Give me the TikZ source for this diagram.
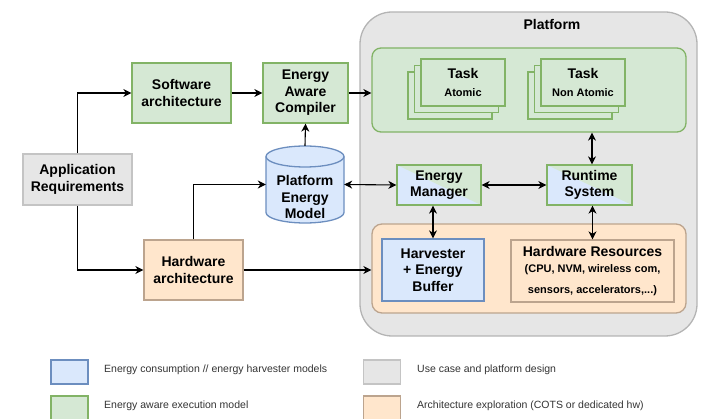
\documentclass[tikz,border=0pt]{standalone}
\usepackage{fontspec}
\setmainfont{Liberation Sans}
\usetikzlibrary{arrows.meta}

\definecolor{bluefill}{HTML}{DAE8FC}
\definecolor{blueline}{HTML}{6C8EBF}
\definecolor{greenfill}{HTML}{D5E8D4}
\definecolor{greenline}{HTML}{82B366}
\definecolor{grayfill}{HTML}{E6E6E6}
\definecolor{grayline}{HTML}{C4C4C4}
\definecolor{orangefill}{HTML}{FFE6CC}
\definecolor{orangeline}{HTML}{BCA48E}

\newcommand\bigbf{\fontsize{14}{16.5}\selectfont\bfseries}
\newcommand\smallbf{\fontsize{11}{13}\selectfont\bfseries}

\begin{document}
\begin{tikzpicture}[x=1pt,y=-1pt,
  box/.style={line width=1.3pt,align=center,inner sep=0pt,font=\bigbf},
  bluebox/.style={box,draw=blueline,fill=bluefill},
  greenbox/.style={box,draw=greenline,fill=greenfill},
  graybox/.style={box,draw=grayline,fill=grayfill},
  orangebox/.style={box,draw=orangeline,fill=orangefill},
  mixbox/.style={box,draw=greenline,fill=bluefill,
    path picture={\fill[greenfill] (path picture bounding box.north west) -- (path picture bounding box.north east) -- (path picture bounding box.south east) -- cycle;}},
  conn/.style={line width=1.1pt,-{Stealth[length=8pt,width=8pt,inset=2.5pt]}},
  biconn/.style={line width=1.1pt,{Stealth[length=8pt,width=8pt,inset=2.5pt]}-{Stealth[length=8pt,width=8pt,inset=2.5pt]}},
  legtext/.style={anchor=west,inner sep=0pt,font=\fontsize{10.5}{13}\selectfont,text=black!80}
]
\useasboundingbox (0,0) rectangle (705,419);

% platform
\node (platform) [graybox,draw=grayline!92!black,minimum width=337,minimum height=324,rounded corners=32] at (528.5,174) {};
\node (platformtitle) [font=\bigbf] at (552,25) {Platform};

\node (tasks) [greenbox,minimum width=314,minimum height=84,rounded corners=9] at (529,90) {};
\foreach \d in {13,6.5}
  \node [greenbox,minimum width=84,minimum height=47] at (463-\d,82.5+\d) {};
\node (taskatomic) [greenbox,minimum width=84,minimum height=47] at (463,82.5) {Task\\[1pt]\smallbf Atomic};
\foreach \d in {13,6.5}
  \node [greenbox,minimum width=84,minimum height=47] at (583-\d,82.5+\d) {};
\node (tasknonatomic) [greenbox,minimum width=84,minimum height=47] at (583,82.5) {Task\\[1pt]\smallbf Non Atomic};

\node (em) [mixbox,minimum width=84,minimum height=40] at (439,185) {Energy\\Manager};
\node (runtime) [mixbox,minimum width=85,minimum height=40] at (589.5,185) {Runtime\\System};

\node (hwbox) [orangebox,minimum width=314,minimum height=89,rounded corners=10] at (529,268.5) {};
\node (harvester) [bluebox,minimum width=102,minimum height=62] at (433,270) {Harvester\\+ Energy\\Buffer};
\node (hwres) [orangebox,minimum width=163,minimum height=62] at (592.5,271) {Hardware Resources\\[0pt]\smallbf (CPU, NVM, wireless com,\\[4pt]\smallbf sensors, accelerators,...)};

% design flow
\node (appreq) [graybox,minimum width=109,minimum height=51] at (77.5,179.5) {Application\\Requirements};
\node (sw) [greenbox,minimum width=99,minimum height=60] at (181.5,93) {Software\\architecture};
\node (compiler) [greenbox,minimum width=85,minimum height=60] at (305.5,93) {Energy\\Aware\\Compiler};
\node (hw) [orangebox,minimum width=99,minimum height=60] at (193.5,270) {Hardware\\architecture};

\node (pem) [minimum width=78,minimum height=77,inner sep=0pt] at (305,184.5) {};
\draw [line width=1.3pt,draw=blueline,fill=bluefill] (266,156.5) -- (266,212.5) arc (180:0:39 and 10.5) -- (344,156.5) arc (0:-180:39 and 10.5) -- cycle;
\draw [line width=1.3pt,draw=blueline] (266,156.5) arc (180:0:39 and 10.5);
\node (pemtext) [align=center,font=\bigbf] at (305,197) {Platform\\Energy\\Model};

\draw [conn] (appreq.north) |- (sw.west);
\draw [conn] (appreq.south) |- (hw.west);
\draw [conn] (sw.east) -- (compiler.west);
\draw [conn] (compiler.east) -- (compiler.east -| tasks.west);
\draw [conn] (pem.north) -- (compiler.south);
\draw [conn] (hw.north) |- (pem.west);
\draw [conn] (hw.east) -- (hw.east -| hwbox.west);
\draw [biconn] (pem.east) -- (em.west);
\draw [biconn] (em.east) -- (runtime.west);
\draw [biconn] (harvester.north |- em.south) -- (harvester.north);
\draw [biconn] ([xshift=2.5]runtime.north |- tasks.south) -- ([xshift=2.5]runtime.north);
\draw [biconn] (hwres.north |- runtime.south) -- (hwres.north |- hwres.north);

% legend
\node (legblue) [bluebox,minimum width=37,minimum height=24] at (69.5,372) {};
\node [legtext] at (104,370) {Energy consumption // energy harvester models};
\node (leggreen) [greenbox,minimum width=37,minimum height=24] at (69.5,408) {};
\node [legtext] at (104,406) {Energy aware execution model};
\node (leggray) [graybox,minimum width=37,minimum height=24] at (382,372) {};
\node [legtext] at (417,370) {Use case and platform design};
\node (legorange) [orangebox,minimum width=37,minimum height=24] at (382,408) {};
\node [legtext] at (417,406) {Architecture exploration (COTS or dedicated hw)};
\end{tikzpicture}
\end{document}
